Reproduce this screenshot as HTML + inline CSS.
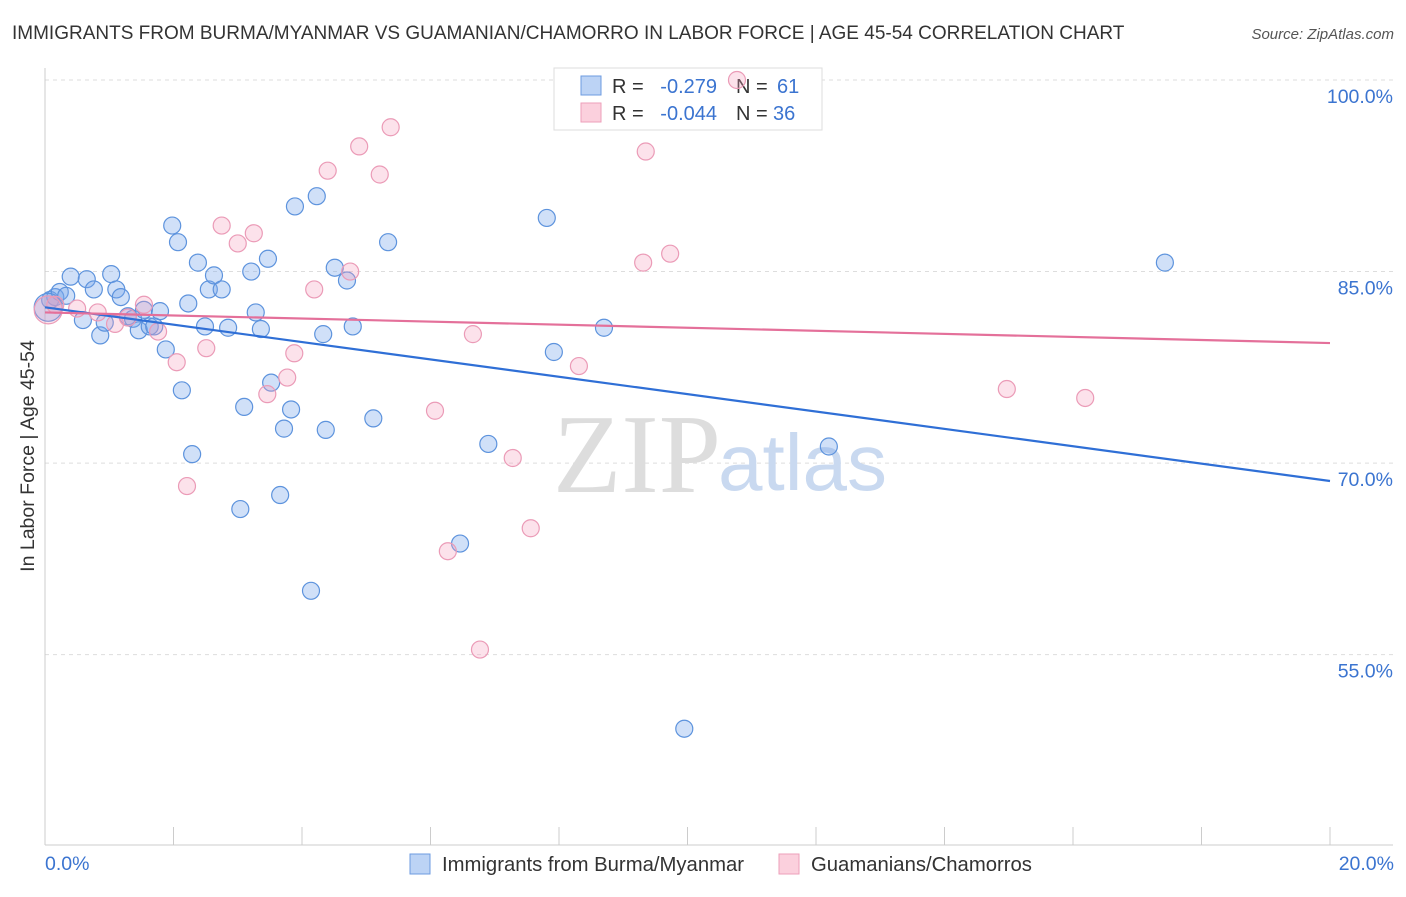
<!DOCTYPE html>
<html><head><meta charset="utf-8"><style>
body{margin:0;background:#fff;font-family:"Liberation Sans",sans-serif;}
svg text{font-family:"Liberation Sans",sans-serif;}
</style></head><body>
<svg id="chart" width="1406" height="892" xmlns="http://www.w3.org/2000/svg">
<text x="12" y="39" font-size="19" fill="#333">IMMIGRANTS FROM BURMA/MYANMAR VS GUAMANIAN/CHAMORRO IN LABOR FORCE | AGE 45-54 CORRELATION CHART</text>
<text x="1394" y="39" font-size="15" fill="#555" font-style="italic" text-anchor="end">Source: ZipAtlas.com</text>
<g id="grid"></g>
<text x="553" y="492" font-size="112" fill="#ddd" style="font-family:'Liberation Serif',serif">ZIP</text>
<text x="718" y="490" font-size="80" fill="#c9d9f0">atlas</text>
<g>
<rect x="554" y="68" width="268" height="62" fill="#fff" stroke="#ddd"/>
<rect x="581" y="76" width="20" height="19" fill="#bcd3f5" stroke="#6d9be0"/>
<rect x="581" y="103" width="20" height="19" fill="#fbd0dd" stroke="#ee9fba"/>
<text x="612" y="93" font-size="20" fill="#333">R =</text>
<text x="717" y="93" font-size="20" fill="#3b74d0" text-anchor="end">-0.279</text>
<text x="736" y="93" font-size="20" fill="#333">N =</text>
<text x="777" y="93" font-size="20" fill="#3b74d0">61</text>
<text x="612" y="120" font-size="20" fill="#333">R =</text>
<text x="717" y="120" font-size="20" fill="#3b74d0" text-anchor="end">-0.044</text>
<text x="736" y="120" font-size="20" fill="#333">N =</text>
<text x="773" y="120" font-size="20" fill="#3b74d0">36</text>
</g>
<g id="marks"></g>
<text x="34" y="456" font-size="19.5" fill="#333" text-anchor="middle" transform="rotate(-90 34 456)">In Labor Force | Age 45-54</text>
<text x="45" y="870" font-size="19.5" fill="#3b74d0">0.0%</text>
<text x="1394" y="870" font-size="19.5" fill="#3b74d0" text-anchor="end">20.0%</text>
<g>
<rect x="410" y="854" width="20" height="20" fill="#bcd3f5" stroke="#6d9be0"/>
<text x="442" y="871" font-size="20.3" fill="#333">Immigrants from Burma/Myanmar</text>
<rect x="779" y="854" width="20" height="20" fill="#fbd0dd" stroke="#ee9fba"/>
<text x="811" y="871" font-size="20.3" fill="#333">Guamanians/Chamorros</text>
</g>
</svg>
<script>
const yTicks=[100,85,70,55];
const yTickLabels=["100.0%","85.0%","70.0%","55.0%"];
const xTicks=[0,2,4,6,8,10,12,14,16,18,20];
const blueX=[0.08,0.16,0.23,0.33,0.40,0.59,0.65,0.76,0.86,0.93,1.03,1.11,1.18,1.29,1.37,1.46,1.54,1.63,1.70,1.79,1.88,1.98,2.07,2.13,2.23,2.29,2.38,2.49,2.55,2.63,2.75,2.85,3.04,3.10,3.21,3.28,3.36,3.47,3.52,3.66,3.72,3.83,3.89,4.14,4.23,4.33,4.37,4.51,4.70,4.79,5.11,5.34,6.46,6.90,7.81,7.92,8.70,9.95,12.2,17.43,0.05];
const blueY=[82.77,83.0,83.4,83.1,84.6,81.2,84.4,83.6,80.0,81.0,84.8,83.6,83.0,81.5,81.3,80.4,82.0,80.7,80.7,81.9,78.9,88.6,87.3,75.7,82.5,70.7,85.7,80.7,83.6,84.7,83.6,80.6,66.4,74.4,85.0,81.8,80.5,86.0,76.3,67.5,72.7,74.2,90.1,60.0,90.9,80.1,72.6,85.3,84.3,80.7,73.5,87.3,63.7,71.5,89.2,78.7,80.6,49.2,71.3,85.7,82.2];
const pinkX=[0.05,0.16,0.50,0.82,1.09,1.29,1.54,1.76,2.05,2.21,2.51,2.75,3.00,3.25,3.46,3.77,3.88,4.19,4.40,4.75,4.89,5.21,5.38,6.07,6.27,6.66,6.77,7.28,7.56,8.31,9.31,9.35,9.73,10.77,14.97,16.19];
const pinkY=[82.0,82.4,82.1,81.8,80.9,81.4,82.4,80.3,77.9,68.2,79.0,88.6,87.2,88.0,75.4,76.7,78.6,83.6,92.9,85.0,94.8,92.6,96.3,74.1,63.1,80.1,55.4,70.4,64.9,77.6,85.7,94.4,86.4,100.0,75.8,75.1];
const blueTrend=[82.2,68.6];
const pinkTrend=[81.8,79.4];
const NS="http://www.w3.org/2000/svg";
const X0=45,X1=1330,YT=80,YPX=12.77;
function sx(v){return X0+(v/20)*(X1-X0);}
function sy(v){return YT+(100-v)*YPX;}
function mk(t,a,p){const e=document.createElementNS(NS,t);for(const k in a)e.setAttribute(k,a[k]);p.appendChild(e);return e;}
const grid=document.getElementById('grid'),marks=document.getElementById('marks');
yTicks.forEach((v,i)=>{
 const l=mk('line',{x1:X0,x2:1393,y1:sy(v),y2:sy(v),stroke:'#ddd','stroke-dasharray':'4,4'},grid);
 
 
 const t=mk('text',{x:1393,y:sy(v)+23,'font-size':19.5,fill:'#3b74d0','text-anchor':'end'},grid);
 t.textContent=yTickLabels[i];
 
 
});
const ax=mk('line',{x1:X0,x2:X0,y1:68,y2:845,stroke:'#ccc'},grid);


const bx=mk('line',{x1:X0,x2:1393,y1:845,y2:845,stroke:'#ccc'},grid);


xTicks.forEach(v=>{
 const t=mk('line',{x1:sx(v),x2:sx(v),y1:827,y2:845,stroke:'#ccc'},grid);
 
 
});
blueX.forEach((x,i)=>{
 const r=(i===blueX.length-1)?14:8.5;
 const c=mk('circle',{cx:sx(x),cy:sy(blueY[i]),r:r,fill:'rgba(120,165,235,0.35)',stroke:'#5d93dd','stroke-width':1.2},marks);
 
 
});
pinkX.forEach((x,i)=>{
 const r=i===0?14:8.5;
 const c=mk('circle',{cx:sx(x),cy:sy(pinkY[i]),r:r,fill:'rgba(245,160,190,0.3)',stroke:'#eb9bb7','stroke-width':1.2},marks);
 
 
});
const bl=mk('line',{x1:sx(0),y1:sy(blueTrend[0]),x2:sx(20),y2:sy(blueTrend[1]),stroke:'#2f6fd6','stroke-width':2.2},marks);


const pl=mk('line',{x1:sx(0),y1:sy(pinkTrend[0]),x2:sx(20),y2:sy(pinkTrend[1]),stroke:'#e4709a','stroke-width':2.2},marks);


</script>
</body></html>
